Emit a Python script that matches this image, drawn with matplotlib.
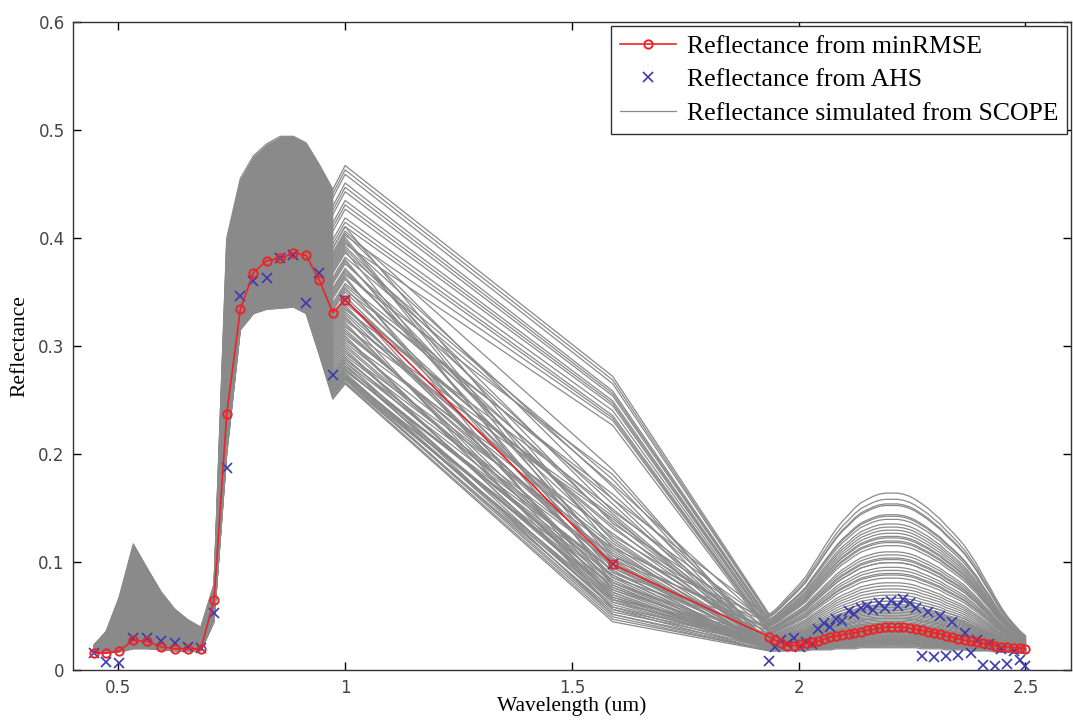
import numpy as np
import matplotlib
matplotlib.use("Agg")
import matplotlib.pyplot as plt
from matplotlib.lines import Line2D

# ---- AHS band centres [um] ----
vnir_wl = [0.447, 0.473, 0.502, 0.533, 0.563, 0.594, 0.624, 0.653, 0.682, 0.711,
           0.739, 0.769, 0.798, 0.827, 0.857, 0.886, 0.914, 0.943, 0.973, 1.000]
mid_wl = [1.590]
swir_wl = [1.935, 1.948, 1.962, 1.975, 1.989, 2.002, 2.016, 2.029, 2.043, 2.056,
           2.070, 2.083, 2.096, 2.110, 2.123, 2.137, 2.150, 2.164, 2.177, 2.191,
           2.204, 2.218, 2.231, 2.245, 2.258, 2.272, 2.285, 2.298, 2.312, 2.325,
           2.339, 2.352, 2.366, 2.379, 2.393, 2.406, 2.420, 2.433, 2.447, 2.460,
           2.474, 2.487, 2.500]

# ---- SCOPE ensemble envelopes ----
vnir_low = [0.016, 0.016, 0.017, 0.020, 0.020, 0.019, 0.018, 0.018, 0.018, 0.045,
            0.200, 0.315, 0.330, 0.334, 0.335, 0.336, 0.330, 0.292, 0.251, 0.265]
vnir_high = [0.024, 0.036, 0.068, 0.117, 0.095, 0.073, 0.057, 0.047, 0.040, 0.080,
             0.400, 0.455, 0.476, 0.487, 0.494, 0.494, 0.488, 0.468, 0.445, 0.467]
mid_low = [0.045]
mid_high = [0.272]
swir_low = [0.018, 0.018, 0.018, 0.018, 0.018, 0.018, 0.018, 0.019, 0.019, 0.019,
            0.019, 0.020, 0.020, 0.020, 0.020, 0.021, 0.021, 0.021, 0.021, 0.021,
            0.021, 0.021, 0.021, 0.021, 0.021, 0.020, 0.020, 0.020, 0.020, 0.019,
            0.019, 0.019, 0.019, 0.018, 0.018, 0.018, 0.018, 0.017, 0.017, 0.017,
            0.016, 0.016, 0.016]
swir_high = [0.052, 0.056, 0.062, 0.068, 0.074, 0.080, 0.087, 0.096, 0.105, 0.114,
             0.123, 0.131, 0.138, 0.144, 0.150, 0.155, 0.158, 0.161, 0.163, 0.164,
             0.164, 0.164, 0.163, 0.161, 0.158, 0.154, 0.150, 0.145, 0.140, 0.134,
             0.128, 0.122, 0.115, 0.107, 0.098, 0.088, 0.078, 0.068, 0.058, 0.050,
             0.043, 0.037, 0.032]

# position of each simulated spectrum inside the envelope (0 = low, 1 = high)
nir_level = [1.00, 0.98, 0.96, 0.92, 0.90, 0.88, 0.84, 0.82, 0.80, 0.76,
             0.74, 0.72, 0.68, 0.64,
             0.72, 0.70, 0.67, 0.65, 0.62, 0.60, 0.57, 0.55, 0.52, 0.50,
             0.48, 0.45, 0.43, 0.40, 0.38, 0.36, 0.34, 0.32, 0.30, 0.28,
             0.26, 0.24, 0.22, 0.20, 0.18, 0.16, 0.14, 0.12, 0.11, 0.10,
             0.08, 0.07, 0.06, 0.05, 0.04, 0.03, 0.02, 0.00,
             0.69, 0.66, 0.63, 0.61, 0.58, 0.56, 0.53, 0.51, 0.49, 0.46,
             0.44, 0.42, 0.39, 0.37, 0.35, 0.33, 0.31, 0.29, 0.27, 0.25,
             0.23, 0.21, 0.19, 0.17, 0.15, 0.13, 0.12, 0.10, 0.09, 0.08,
             0.07, 0.06, 0.05, 0.04, 0.035, 0.03, 0.025, 0.02, 0.01, 0.005]
swir_level = [1.00, 0.985, 0.97, 0.94, 0.93, 0.92, 0.90, 0.89, 0.88, 0.86,
              0.84, 0.83, 0.82, 0.80,
              0.30, 0.62, 0.25, 0.55, 0.40, 0.58, 0.20, 0.48, 0.35, 0.60,
              0.18, 0.44, 0.52, 0.28, 0.38, 0.15, 0.46, 0.22, 0.32, 0.12,
              0.42, 0.26, 0.10, 0.36, 0.19, 0.08, 0.30, 0.14, 0.24, 0.06,
              0.17, 0.11, 0.21, 0.04, 0.13, 0.07, 0.02, 0.00,
              0.50, 0.22, 0.45, 0.16, 0.56, 0.33, 0.27, 0.41, 0.09, 0.50,
              0.24, 0.34, 0.13, 0.39, 0.20, 0.29, 0.05, 0.43, 0.16, 0.23,
              0.31, 0.11, 0.27, 0.18, 0.09, 0.25, 0.14, 0.21, 0.03, 0.16,
              0.10, 0.19, 0.06, 0.12, 0.08, 0.15, 0.03, 0.09, 0.05, 0.01]
hump_level = [1.00, 0.96, 0.93, 0.86, 0.83, 0.80, 0.74, 0.71, 0.68, 0.62,
              0.57, 0.55, 0.52, 0.47,
              0.85, 0.10, 0.78, 0.05, 0.72, 0.15, 0.66, 0.08, 0.60, 0.20,
              0.55, 0.12, 0.50, 0.25, 0.45, 0.03, 0.40, 0.18, 0.36, 0.07,
              0.32, 0.14, 0.28, 0.22, 0.10, 0.30, 0.04, 0.16, 0.09, 0.26,
              0.06, 0.12, 0.02, 0.19, 0.08, 0.13, 0.01, 0.00,
              0.92, 0.42, 0.76, 0.34, 0.69, 0.24, 0.58, 0.16, 0.48, 0.11,
              0.38, 0.21, 0.30, 0.06, 0.27, 0.14, 0.23, 0.04, 0.19, 0.11,
              0.17, 0.07, 0.15, 0.03, 0.13, 0.09, 0.11, 0.05, 0.10, 0.02,
              0.08, 0.06, 0.05, 0.04, 0.07, 0.03, 0.02, 0.05, 0.01, 0.03]

# ---- best-fit (minRMSE) and AHS measured reflectance ----
rmse_vnir = [0.016, 0.016, 0.018, 0.028, 0.027, 0.022, 0.020, 0.020, 0.020, 0.065,
             0.237, 0.334, 0.368, 0.379, 0.381, 0.386, 0.384, 0.361, 0.331, 0.343]
rmse_mid = [0.098]
rmse_swir = [0.031, 0.028, 0.025, 0.023, 0.023, 0.024, 0.025, 0.026, 0.027, 0.029,
             0.031, 0.032, 0.033, 0.034, 0.035, 0.036, 0.037, 0.038, 0.039, 0.040,
             0.040, 0.040, 0.040, 0.039, 0.038, 0.037, 0.036, 0.035, 0.034, 0.032,
             0.031, 0.029, 0.028, 0.027, 0.026, 0.025, 0.024, 0.023, 0.022, 0.022,
             0.021, 0.021, 0.020]
ahs_vnir = [0.016, 0.008, 0.007, 0.030, 0.030, 0.027, 0.025, 0.022, 0.021, 0.053,
            0.187, 0.346, 0.360, 0.363, 0.381, 0.384, 0.340, 0.368, 0.273, 0.343]
ahs_mid = [0.098]
ahs_swir = [0.009, 0.022, 0.028, 0.024, 0.030, 0.022, 0.026, 0.024, 0.038, 0.044,
            0.040, 0.048, 0.046, 0.055, 0.052, 0.058, 0.060, 0.056, 0.062, 0.058,
            0.064, 0.060, 0.066, 0.062, 0.058, 0.013, 0.054, 0.012, 0.050, 0.013,
            0.045, 0.014, 0.035, 0.016, 0.028, 0.005, 0.024, 0.004, 0.020, 0.006,
            0.018, 0.010, 0.004]

wl = np.array(vnir_wl + mid_wl + swir_wl)
low_vnir, high_vnir = np.array(vnir_low), np.array(vnir_high)
low_mid, high_mid = np.array(mid_low), np.array(mid_high)
low_swir, high_swir = np.array(swir_low), np.array(swir_high)

SIM_COLOR = "#8a8a8a"
RMSE_COLOR = "#e8262a"
AHS_COLOR = "#3a3ab0"

fig = plt.figure(figsize=(10.73, 7.24), dpi=100)
ax = fig.add_axes([0.068, 0.074, 0.930, 0.896])

# dense VNIR part of the ensemble renders as a solid grey block
n_fill = 19
ax.fill_between(vnir_wl[:n_fill], vnir_low[:n_fill], vnir_high[:n_fill],
                color=SIM_COLOR, linewidth=0, zorder=1)

for a, b, c in zip(nir_level, swir_level, hump_level):
    spec = np.concatenate([low_vnir + a * (high_vnir - low_vnir),
                           low_mid + b * (high_mid - low_mid),
                           low_swir + c * (high_swir - low_swir)])
    ax.plot(wl, spec, color=SIM_COLOR, linewidth=0.9, zorder=2)

ax.plot(wl, rmse_vnir + rmse_mid + rmse_swir, "-o", color=RMSE_COLOR,
        markerfacecolor="none", markeredgecolor=RMSE_COLOR, markersize=6,
        markeredgewidth=1.4, linewidth=1.2, zorder=4)
ax.plot(wl, ahs_vnir + ahs_mid + ahs_swir, "x", color=AHS_COLOR,
        markersize=6.5, markeredgewidth=1.2, zorder=3)

ax.set_xlim(0.4, 2.6)
ax.set_ylim(0, 0.6)
ax.set_xticks([0.5, 1, 1.5, 2, 2.5])
ax.set_xticklabels(["0.5", "1", "1.5", "2", "2.5"])
ax.set_yticks([0, 0.1, 0.2, 0.3, 0.4, 0.5, 0.6])
ax.set_yticklabels(["0", "0.1", "0.2", "0.3", "0.4", "0.5", "0.6"])
ax.tick_params(direction="in", top=True, right=True, length=6, width=1.0,
               labelsize=12, labelcolor="#444444", pad=6)
for s in ax.spines.values():
    s.set_linewidth(1.0)
    s.set_color("#333333")

serif = ["Liberation Serif", "DejaVu Serif"]
ax.set_xlabel("Wavelength (um)", fontsize=15.5, family=serif, labelpad=0)
ax.set_ylabel("Reflectance", fontsize=15.5, family=serif, labelpad=6)

handles = [
    Line2D([], [], color=RMSE_COLOR, marker="o", markerfacecolor="none",
           markersize=6, markeredgewidth=1.4, linewidth=1.2),
    Line2D([], [], color=AHS_COLOR, marker="x", linestyle="none",
           markersize=6.5, markeredgewidth=1.2),
    Line2D([], [], color=SIM_COLOR, linewidth=0.9),
]
labels = ["Reflectance from minRMSE", "Reflectance from AHS",
          "Reflectance simulated from SCOPE"]
leg = ax.legend(handles, labels, loc="upper right", fancybox=False,
                edgecolor="#333333", framealpha=1, borderaxespad=0.15,
                prop={"family": serif, "size": 18.5}, handlelength=2.2,
                labelspacing=0.42, borderpad=0.35, handletextpad=0.4)
leg.get_frame().set_linewidth(1.0)

fig.savefig("out.png", dpi=100)
